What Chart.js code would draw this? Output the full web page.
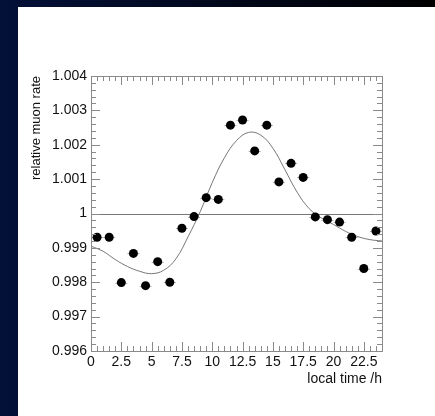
<!DOCTYPE html>
<html>
<head>
<meta charset="utf-8">
<title>relative muon rate vs local time</title>
<script src="https://cdn.jsdelivr.net/npm/chart.js@4.4.1/dist/chart.umd.min.js"></script>
<style>
  html, body { margin: 0; padding: 0; background: #020b2e; overflow: hidden; }
</style>
</head>
<body>
<canvas id="muonChart" width="435" height="416"></canvas>
<script>
// hourly bins (bin centres) and measured relative rate
const hours = [0.5, 1.5, 2.5, 3.5, 4.5, 5.5, 6.5, 7.5, 8.5, 9.5, 10.5, 11.5,
               12.5, 13.5, 14.5, 15.5, 16.5, 17.5, 18.5, 19.5, 20.5, 21.5, 22.5, 23.5];
const rates = [0.99931, 0.99931, 0.99799, 0.99884, 0.99790, 0.99860, 0.99800, 0.99957,
               0.99991, 1.00046, 1.00041, 1.00257, 1.00272, 1.00182, 1.00257, 1.00092,
               1.00146, 1.00105, 0.99990, 0.99982, 0.99975, 0.99931, 0.99840, 0.99949];
const xErr = 0.5; // half bin width

// fitted curve
const fitHours = [0, 1, 2, 3, 4, 5, 6, 7, 8, 9, 10, 11, 12,
                  13, 14, 15, 16, 17, 18, 19, 20, 21, 22, 23, 24];
const fitRates = [0.99905, 0.99890, 0.99866, 0.99846, 0.99832, 0.99825, 0.99835, 0.99868,
                  0.99932, 1.00005, 1.00090, 1.00162, 1.00212, 1.00236, 1.00228, 1.00190,
                  1.00127, 1.00062, 1.00014, 0.99987, 0.99968, 0.99948, 0.99933, 0.99924, 0.99920];

const refLevel = 1;

const xTickLabels = ['0', '2.5', '5', '7.5', '10', '12.5', '15', '17.5', '20', '22.5'];
const yTickLabels = ['0.996', '0.997', '0.998', '0.999', '1', '1.001', '1.002', '1.003', '1.004'];

const FONT = "'Liberation Sans', Arial, Helvetica, sans-serif";
const AXIS_GREY = '#8a8a8a';

function strokeLine(ctx, x1, y1, x2, y2) {
    ctx.beginPath();
    ctx.moveTo(x1, y1);
    ctx.lineTo(x2, y2);
    ctx.stroke();
}

// page frame, reference line, error bars, ticks and box
const rootStyle = {
    id: 'rootStyle',
    beforeDraw(chart) {
        const { ctx, width, height } = chart;
        const g = ctx.createLinearGradient(0, 0, width, 0);
        g.addColorStop(0, '#031038');
        g.addColorStop(1, '#000000');
        ctx.save();
        ctx.fillStyle = g;
        ctx.fillRect(0, 0, width, height);
        ctx.fillStyle = '#ffffff';
        ctx.fillRect(18, 7, width - 18, height - 7);
        ctx.restore();
    },
    beforeDatasetsDraw(chart) {
        const { ctx, chartArea: a, scales: { x, y } } = chart;
        ctx.save();
        ctx.lineWidth = 1;
        ctx.strokeStyle = '#777777';
        const yr = Math.round(y.getPixelForValue(refLevel)) + 0.5;
        strokeLine(ctx, a.left, yr, a.right, yr);

        ctx.strokeStyle = '#b5b5b5';
        hours.forEach((h, i) => {
            const py = Math.round(y.getPixelForValue(rates[i])) + 0.5;
            strokeLine(ctx, x.getPixelForValue(h - xErr), py, x.getPixelForValue(h + xErr), py);
        });
        ctx.restore();
    },
    afterDraw(chart) {
        const { ctx, chartArea: a, scales: { x, y } } = chart;
        ctx.save();
        ctx.strokeStyle = AXIS_GREY;
        ctx.lineWidth = 1;

        // x ticks: major every 2.5, minor every 0.5
        for (let i = 0; i <= 48; i++) {
            const px = Math.round(x.getPixelForValue(i * 0.5)) + 0.5;
            const len = i % 5 === 0 ? 9 : 5;
            strokeLine(ctx, px, a.bottom, px, a.bottom - len);
            strokeLine(ctx, px, a.top, px, a.top + len);
        }
        // y ticks: major every 0.001, minor every 0.0002
        for (let i = 0; i <= 40; i++) {
            const py = Math.round(y.getPixelForValue(0.996 + i * 0.0002)) + 0.5;
            const len = i % 5 === 0 ? 9 : 5;
            strokeLine(ctx, a.left, py, a.left + len, py);
            strokeLine(ctx, a.right, py, a.right - len, py);
        }

        ctx.strokeRect(Math.round(a.left) + 0.5, Math.round(a.top) + 0.5,
                       Math.round(a.right - a.left), Math.round(a.bottom - a.top));
        ctx.restore();
    }
};

const ctx = document.getElementById('muonChart').getContext('2d');

new Chart(ctx, {
    type: 'scatter',
    data: {
        datasets: [
            {
                label: 'data',
                data: hours.map((h, i) => ({ x: h, y: rates[i] })),
                pointRadius: 4.5,
                pointBackgroundColor: '#000000',
                pointBorderWidth: 0,
                order: 0
            },
            {
                label: 'fit',
                data: fitHours.map((h, i) => ({ x: h, y: fitRates[i] })),
                showLine: true,
                pointRadius: 0,
                borderColor: '#777777',
                borderWidth: 1,
                tension: 0.4,
                order: 1
            }
        ]
    },
    options: {
        responsive: false,
        animation: false,
        layout: { padding: { top: 76, right: 53, left: 0, bottom: 0 } },
        plugins: {
            legend: { display: false },
            tooltip: { enabled: false }
        },
        scales: {
            x: {
                type: 'linear',
                min: 0,
                max: 24,
                grid: { display: false, drawTicks: false },
                border: { display: false },
                afterBuildTicks: s => { s.ticks = xTickLabels.map(t => ({ value: Number(t) })); },
                afterFit: s => { s.height = 65; },
                ticks: {
                    padding: 3,
                    color: '#111111',
                    font: { family: FONT, size: 14 },
                    maxRotation: 0,
                    autoSkip: false,
                    callback: (v, i) => xTickLabels[i]
                },
                title: {
                    display: true,
                    text: 'local time /h',
                    align: 'end',
                    color: '#111111',
                    font: { family: FONT, size: 14 },
                    padding: { top: 0, bottom: 28 }
                }
            },
            y: {
                type: 'linear',
                min: 0.996,
                max: 1.004,
                grid: { display: false, drawTicks: false },
                border: { display: false },
                afterBuildTicks: s => { s.ticks = yTickLabels.map(t => ({ value: Number(t) })); },
                afterFit: s => { s.width = 91; },
                ticks: {
                    padding: 4,
                    color: '#111111',
                    font: { family: FONT, size: 14 },
                    autoSkip: false,
                    callback: (v, i) => yTickLabels[i]
                },
                title: {
                    display: true,
                    text: 'relative muon rate',
                    align: 'end',
                    color: '#111111',
                    font: { family: FONT, size: 13 },
                    padding: { top: 29, bottom: 0 }
                }
            }
        }
    },
    plugins: [rootStyle]
});
</script>
</body>
</html>
